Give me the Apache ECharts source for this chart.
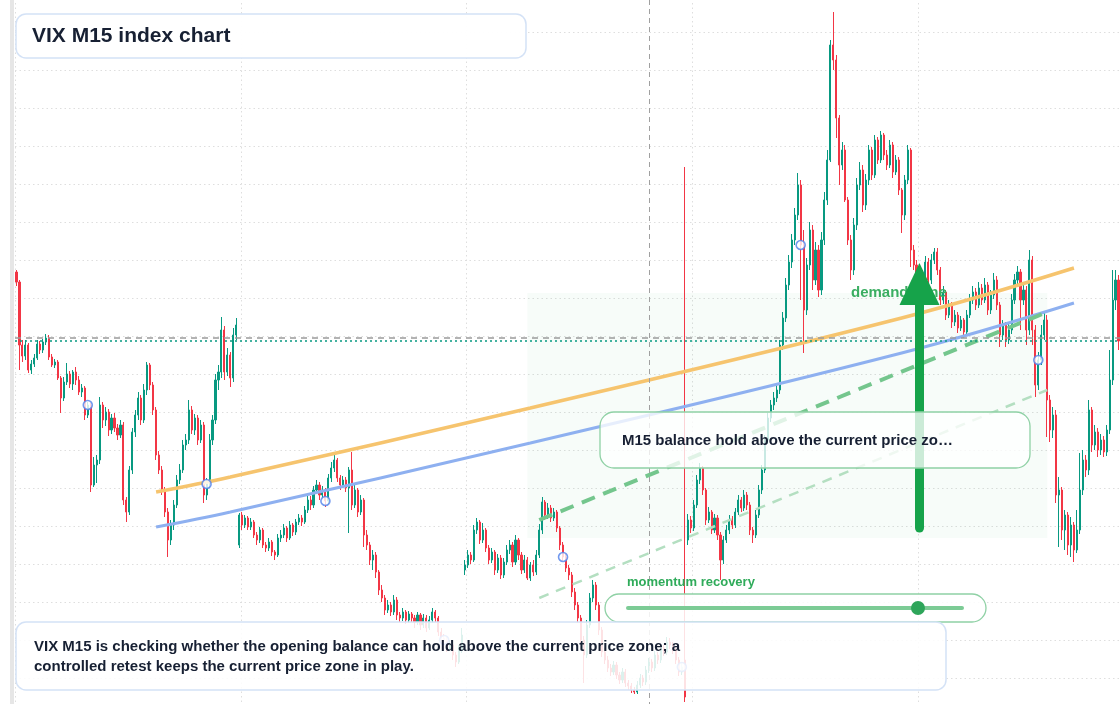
<!DOCTYPE html>
<html><head><meta charset="utf-8">
<script src="https://cdn.jsdelivr.net/npm/echarts@6/dist/echarts.min.js"></script>
<style>html,body{margin:0;padding:0;background:#fff}#c{width:1120px;height:704px}</style>
</head><body><div id="c"></div>
<script>
// ---- VIX M15 candles (price) ----
const opens = [
17.28,17.18,16.55,16.44,16.55,16.30,16.36,16.42,16.56,16.50,
16.58,16.62,16.43,16.35,16.38,16.22,16.02,16.18,16.26,16.16,
16.28,16.20,16.08,16.12,15.85,15.95,15.15,15.35,15.40,15.95,
15.80,15.88,15.70,15.82,15.72,15.65,15.75,15.00,14.88,15.30,
15.68,15.85,16.02,15.80,16.10,16.35,16.15,15.90,15.45,15.30,
15.10,14.88,14.60,14.75,14.95,15.20,15.30,15.55,15.60,15.90,
15.70,15.82,15.60,15.75,15.05,15.16,15.60,15.80,16.20,16.28,
16.70,16.28,16.45,16.22,16.65,14.55,14.85,14.75,14.82,14.73,
14.78,14.65,14.60,14.70,14.55,14.52,14.58,14.48,14.45,14.62,
14.65,14.72,14.62,14.75,14.68,14.78,14.82,14.78,14.90,15.00,
14.95,15.10,15.15,15.05,15.10,14.99,15.22,15.32,15.40,15.22,
15.15,15.20,15.12,15.30,14.95,15.10,14.88,15.00,14.65,14.55,
14.40,14.45,14.28,14.10,14.02,13.90,13.95,13.88,14.00,13.85,
13.82,13.88,13.80,13.86,13.82,13.78,13.85,13.75,13.82,13.72,
13.80,13.88,13.82,13.68,13.62,13.60,13.52,13.55,13.45,13.38,
13.50,14.30,14.35,14.45,14.40,14.70,14.78,14.60,14.70,14.52,
14.40,14.48,14.30,14.42,14.25,14.38,14.50,14.55,14.38,14.60,
14.45,14.30,14.40,14.22,14.35,14.28,14.45,14.70,14.98,14.85,
14.92,14.82,14.88,14.72,14.55,14.43,14.32,14.25,14.08,13.95,
13.82,13.60,13.45,13.75,14.02,14.15,13.95,13.70,13.48,13.40,
13.32,13.28,13.35,13.25,13.20,13.28,13.17,13.14,13.10,13.08,
13.15,13.22,13.18,13.30,13.38,13.32,13.45,13.40,13.52,13.48,
13.58,13.55,13.50,13.40,13.28,13.40,14.60,14.80,14.72,14.95,
15.20,15.32,15.10,14.80,14.88,14.70,14.82,14.65,14.40,14.60,
14.70,14.80,14.75,14.88,15.00,14.92,15.05,14.95,14.70,14.65,
14.85,15.10,15.30,15.60,15.82,15.95,16.02,16.10,16.55,16.82,
17.15,17.38,17.60,17.85,18.15,17.55,16.90,17.35,17.70,17.20,
17.50,17.10,17.60,18.00,18.40,19.55,19.40,18.82,18.35,18.50,
18.00,17.60,17.30,17.75,18.15,18.30,17.95,18.20,18.50,18.25,
18.60,18.40,18.65,18.45,18.35,18.55,18.28,18.40,18.10,17.85,
18.20,18.50,17.50,17.35,17.15,17.10,17.25,17.38,17.20,17.40,
17.48,17.30,17.00,17.08,16.85,16.95,16.78,16.85,16.72,16.80,
16.68,16.85,17.00,17.08,16.95,17.12,17.00,17.15,16.90,17.05,
17.20,16.95,16.65,16.75,16.60,16.70,17.00,17.20,17.28,17.00,
17.10,16.70,17.40,16.70,16.15,16.40,16.65,16.80,16.00,15.70,
15.85,15.05,15.10,14.70,14.85,14.55,14.75,14.50,14.70,15.10,
15.40,15.30,15.90,15.55,15.68,15.50,15.60,15.48,15.70,16.20,
17.00,17.20];
const closes = [
17.18,16.55,16.44,16.55,16.30,16.36,16.42,16.56,16.50,16.58,
16.62,16.43,16.35,16.38,16.22,16.02,16.18,16.26,16.16,16.28,
16.20,16.08,16.12,15.85,15.95,15.15,15.35,15.40,15.95,15.80,
15.88,15.70,15.82,15.72,15.65,15.75,15.00,14.88,15.30,15.68,
15.85,16.02,15.80,16.10,16.35,16.15,15.90,15.45,15.30,15.10,
14.88,14.60,14.75,14.95,15.20,15.30,15.55,15.60,15.90,15.70,
15.82,15.60,15.75,15.05,15.16,15.60,15.80,16.20,16.28,16.70,
16.28,16.45,16.22,16.65,16.75,14.85,14.75,14.82,14.73,14.78,
14.65,14.60,14.70,14.55,14.52,14.58,14.48,14.45,14.62,14.65,
14.72,14.62,14.75,14.68,14.78,14.82,14.78,14.90,15.00,14.95,
15.10,15.15,15.05,15.10,14.99,15.22,15.32,15.40,15.22,15.15,
15.20,15.12,15.30,14.95,15.10,14.88,15.00,14.65,14.55,14.40,
14.45,14.28,14.10,14.02,13.90,13.95,13.88,14.00,13.85,13.82,
13.88,13.80,13.86,13.82,13.78,13.85,13.75,13.82,13.72,13.80,
13.88,13.82,13.68,13.62,13.60,13.52,13.55,13.45,13.38,13.50,
13.65,14.35,14.45,14.40,14.70,14.78,14.60,14.70,14.52,14.40,
14.48,14.30,14.42,14.25,14.38,14.50,14.55,14.38,14.60,14.45,
14.30,14.40,14.22,14.35,14.28,14.45,14.70,14.98,14.85,14.92,
14.82,14.88,14.72,14.55,14.43,14.32,14.25,14.08,13.95,13.82,
13.60,13.45,13.75,14.02,14.15,13.95,13.70,13.48,13.40,13.32,
13.28,13.35,13.25,13.20,13.28,13.17,13.14,13.10,13.08,13.15,
13.22,13.18,13.30,13.38,13.32,13.45,13.40,13.52,13.48,13.58,
13.55,13.50,13.40,13.28,13.33,13.03,14.80,14.72,14.95,15.20,
15.32,15.10,14.80,14.88,14.70,14.82,14.65,14.40,14.60,14.70,
14.80,14.75,14.88,15.00,14.92,15.05,14.95,14.70,14.65,14.85,
15.10,15.30,15.60,15.82,15.95,16.02,16.10,16.55,16.82,17.15,
17.38,17.60,17.85,18.15,17.55,16.90,17.35,17.70,17.20,17.50,
17.10,17.60,18.00,18.40,19.55,19.40,18.82,18.35,18.50,18.00,
17.60,17.30,17.75,18.15,18.30,17.95,18.20,18.50,18.25,18.60,
18.40,18.65,18.45,18.35,18.55,18.28,18.40,18.10,17.85,18.20,
18.50,17.50,17.35,17.15,17.10,17.25,17.38,17.20,17.40,17.48,
17.30,17.00,17.08,16.85,16.95,16.78,16.85,16.72,16.80,16.68,
16.85,17.00,17.08,16.95,17.12,17.00,17.15,16.90,17.05,17.20,
16.95,16.65,16.75,16.60,16.70,17.00,17.20,17.28,17.00,17.10,
16.70,17.40,16.70,16.15,16.40,16.65,16.80,16.00,15.70,15.85,
15.05,15.10,14.70,14.85,14.55,14.75,14.50,14.70,15.10,15.40,
15.30,15.90,15.55,15.68,15.50,15.60,15.48,15.70,16.20,17.00,
17.20,16.59];
const lows = [
17.14,16.30,16.38,16.40,16.27,16.26,16.33,16.40,16.46,16.47,
16.55,16.40,16.33,16.32,16.20,15.87,15.99,16.15,16.12,16.10,
16.15,16.05,16.03,15.80,15.82,15.08,15.13,15.17,15.36,15.72,
15.74,15.64,15.66,15.68,15.60,15.62,14.95,14.78,14.85,15.26,
15.63,15.80,15.75,15.77,16.05,16.10,15.85,15.40,15.26,15.05,
14.83,14.43,14.55,14.70,14.92,15.16,15.27,15.50,15.56,15.66,
15.65,15.55,15.57,14.97,15.00,15.12,15.55,15.76,16.10,16.22,
16.20,16.24,16.13,16.18,16.60,14.52,14.70,14.72,14.70,14.70,
14.62,14.55,14.57,14.52,14.48,14.49,14.44,14.40,14.43,14.58,
14.62,14.58,14.60,14.64,14.65,14.75,14.74,14.76,14.87,14.90,
14.92,15.06,15.00,15.02,14.93,14.96,15.18,15.28,15.18,15.10,
15.12,15.08,14.67,14.90,14.92,14.83,14.85,14.53,14.50,14.35,
14.30,14.22,14.05,13.98,13.85,13.87,13.84,13.85,13.80,13.78,
13.79,13.76,13.77,13.78,13.72,13.75,13.70,13.72,13.68,13.70,
13.77,13.78,13.64,13.58,13.55,13.48,13.49,13.40,13.33,13.36,
13.47,14.25,14.32,14.36,14.38,14.66,14.56,14.57,14.48,14.36,
14.37,14.25,14.27,14.21,14.22,14.35,14.46,14.33,14.35,14.40,
14.26,14.27,14.20,14.19,14.24,14.25,14.42,14.66,14.80,14.81,
14.78,14.79,14.68,14.50,14.39,14.28,14.20,14.03,13.90,13.77,
13.55,13.17,13.42,13.72,13.98,13.90,13.65,13.43,13.36,13.28,
13.24,13.25,13.21,13.16,13.17,13.13,13.10,13.07,13.06,13.06,
13.12,13.14,13.15,13.27,13.28,13.29,13.36,13.37,13.44,13.45,
13.51,13.46,13.36,13.24,13.25,12.98,14.55,14.67,14.69,14.92,
15.16,15.05,14.75,14.77,14.66,14.67,14.60,14.20,14.36,14.57,
14.66,14.71,14.72,14.85,14.88,14.89,14.90,14.65,14.57,14.62,
14.82,15.06,15.27,15.56,15.78,15.90,15.98,16.06,16.50,16.78,
17.10,17.32,17.55,17.80,17.00,16.47,16.85,17.30,17.10,17.15,
17.03,17.05,17.55,17.95,18.38,19.30,18.62,18.15,18.30,17.98,
17.55,17.20,17.25,17.70,18.10,17.88,17.90,18.15,18.20,18.22,
18.36,18.37,18.40,18.30,18.32,18.22,18.25,18.05,17.67,17.80,
18.16,17.33,17.30,17.10,17.05,17.06,17.22,17.15,17.16,17.36,
17.25,16.95,16.96,16.80,16.82,16.72,16.74,16.67,16.69,16.62,
16.64,16.82,16.96,16.90,16.92,16.95,16.97,16.85,16.86,17.01,
16.90,16.53,16.60,16.53,16.56,16.66,16.96,17.14,16.70,16.95,
16.55,16.65,16.55,16.03,16.10,16.35,16.60,15.63,15.58,15.62,
14.97,14.53,14.60,14.50,14.45,14.43,14.38,14.47,14.66,15.05,
15.23,15.25,15.48,15.50,15.43,15.45,15.43,15.44,15.66,16.15,
16.90,16.50];
const highs = [
17.30,17.20,16.60,16.60,16.57,16.40,16.46,16.60,16.59,16.61,
16.66,16.65,16.46,16.41,16.40,16.24,16.23,16.37,16.29,16.30,
16.33,16.24,16.16,16.14,15.98,15.97,15.43,15.45,16.03,15.98,
15.93,15.91,15.86,15.87,15.76,15.80,15.78,15.03,15.34,15.72,
15.90,16.08,16.05,16.16,16.38,16.37,16.18,15.93,15.49,15.34,
15.13,14.92,14.80,15.00,15.25,15.36,15.60,15.66,16.00,15.94,
15.86,15.85,15.80,15.78,15.22,15.66,15.85,16.26,16.35,16.83,
16.74,16.52,16.48,16.72,16.82,14.87,14.88,14.85,14.84,14.82,
14.80,14.68,14.73,14.72,14.58,14.62,14.60,14.50,14.66,14.70,
14.76,14.74,14.79,14.77,14.81,14.86,14.85,14.94,15.05,15.04,
15.14,15.20,15.18,15.14,15.12,15.26,15.38,15.45,15.42,15.25,
15.24,15.23,15.33,15.48,15.15,15.12,15.05,15.02,14.70,14.58,
14.50,14.48,14.30,14.15,14.05,14.00,13.98,14.05,14.03,13.88,
13.92,13.90,13.89,13.88,13.85,13.88,13.87,13.86,13.85,13.84,
13.92,13.90,13.84,13.72,13.66,13.63,13.60,13.58,13.48,13.55,
13.72,14.40,14.50,14.48,14.75,14.82,14.80,14.77,14.72,14.55,
14.52,14.50,14.46,14.45,14.42,14.55,14.60,14.58,14.65,14.62,
14.48,14.45,14.43,14.38,14.40,14.50,14.76,15.03,15.00,14.97,
14.95,14.92,14.90,14.74,14.58,14.46,14.35,14.28,14.12,13.98,
13.85,13.64,13.80,14.07,14.20,14.18,13.98,13.73,13.52,13.44,
13.36,13.39,13.38,13.28,13.32,13.31,13.20,13.17,13.13,13.19,
13.26,13.25,13.34,13.42,13.41,13.49,13.48,13.56,13.55,13.63,
13.62,13.58,13.53,13.43,13.37,18.33,14.86,14.84,15.00,15.25,
15.37,15.34,15.12,14.93,14.90,14.86,14.85,14.68,14.64,14.75,
14.85,14.84,14.92,15.05,15.03,15.10,15.08,14.98,14.73,14.90,
15.15,15.35,15.65,15.87,16.00,16.08,16.15,16.60,16.88,17.22,
17.45,17.66,17.92,18.27,18.20,17.70,17.42,17.78,17.75,17.58,
17.55,17.68,18.08,18.50,19.60,19.88,19.45,18.85,18.58,18.55,
18.03,17.65,17.82,18.22,18.38,18.35,18.26,18.55,18.53,18.65,
18.63,18.69,18.67,18.50,18.60,18.58,18.45,18.43,18.12,18.25,
18.55,18.52,17.55,17.40,17.20,17.30,17.44,17.42,17.46,17.52,
17.52,17.33,17.14,17.10,17.00,16.98,16.90,16.88,16.84,16.82,
16.90,17.06,17.14,17.12,17.18,17.16,17.22,17.18,17.10,17.27,
17.24,16.98,16.80,16.78,16.76,17.06,17.26,17.34,17.31,17.16,
17.14,17.50,17.44,16.75,16.48,16.75,16.87,16.85,16.05,15.93,
15.90,15.23,15.13,14.90,14.88,14.83,14.78,14.90,15.47,15.50,
15.45,16.00,15.93,15.75,15.72,15.66,15.64,15.75,16.50,17.30,
17.30,17.25];

// reference levels and overlays (price units / bar indices)
const lastPrice = 16.59;
const refPrice = 16.62;
const sessionMarkBar = 213;
const markerBars = [24, 64, 104, 144, 184, 224, 264, 304, 344];
const trendBars = [47, 72, 173, 298, 356];
const upperTrend = [15.08, 15.23, 15.92, 16.82, 17.32];
const lowerTrend = [14.73, 14.88, 15.57, 16.47, 16.97];
const channelBars = [176, 347];
const channelMid = [14.80, 16.88];
const channelLow = [14.02, 16.10];
const zoneBars = [172, 347];
const zonePrices = [14.62, 17.07];
const arrowBar = 304;
const arrowPrices = [14.72, 17.16];

const categories = closes.map((_, i) => 'M15-' + (i + 1));
const candleData = closes.map((c, i) => [opens[i], c, lows[i], highs[i]]);
const pairs = (xs, ys) => xs.map((x, i) => [x, ys[i]]);

const FONT = '"Liberation Sans", Arial, Helvetica, sans-serif';
const chart = echarts.init(document.getElementById('c'), null, {renderer: 'canvas'});
chart.setOption({
  animation: false,
  backgroundColor: '#ffffff',
  grid: {left: 15, right: 0, top: -6, bottom: -12, containLabel: false, outerBoundsMode: 'none'},
  xAxis: {
    type: 'category', data: categories, boundaryGap: true,
    axisLine: {show: false}, axisTick: {show: false}, axisLabel: {show: false},
    splitLine: {show: true, interval: 75, lineStyle: {color: '#dedede', type: [1.5, 3], width: 1}}
  },
  yAxis: {
    type: 'value', min: 12.84, max: 20.06, interval: 0.38, scale: true,
    axisLine: {show: false}, axisTick: {show: false}, axisLabel: {show: false},
    splitLine: {show: true, lineStyle: {color: '#dedede', type: [1.5, 3], width: 1}}
  },
  series: [
    {
      type: 'line', data: [], z: 1, silent: true,
      markArea: {
        silent: true,
        itemStyle: {color: 'rgba(22,163,74,0.035)'},
        data: [[{xAxis: zoneBars[0], yAxis: zonePrices[1]}, {xAxis: zoneBars[1], yAxis: zonePrices[0]}]]
      }
    },
    {
      type: 'candlestick', data: candleData, z: 2, barWidth: 1.6,
      itemStyle: {color: '#089981', color0: '#f23645', borderColor: '#089981', borderColor0: '#f23645', borderWidth: 1},
      markLine: {
        silent: true, symbol: ['none', 'none'], label: {show: false},
        data: [
          {yAxis: refPrice, lineStyle: {color: '#9a9a9a', type: [6, 5], width: 1.5}},
          {yAxis: lastPrice, lineStyle: {color: '#089981', type: [2, 3], width: 1.5}},
          {xAxis: sessionMarkBar, lineStyle: {color: '#a0a0a0', type: [5, 4], width: 1}}
        ]
      }
    },
    {type: 'line', data: pairs(trendBars, upperTrend), smooth: 0.4, symbol: 'none', z: 3,
      lineStyle: {color: '#f6c46e', width: 3.5}},
    {type: 'line', data: pairs(trendBars, lowerTrend), smooth: 0.4, symbol: 'none', z: 3,
      lineStyle: {color: '#8eb0f0', width: 3}},
    {type: 'line', data: pairs(channelBars, channelMid), symbol: 'none', z: 3,
      lineStyle: {color: '#74c68d', width: 4, type: [14, 9]}},
    {type: 'line', data: pairs(channelBars, channelLow), symbol: 'none', z: 3,
      lineStyle: {color: '#b4dfc1', width: 2.5, type: [10, 8]}},
    {type: 'scatter', data: markerBars.map(i => [i, closes[i]]), symbol: 'circle', symbolSize: 9, z: 4,
      itemStyle: {color: '#ffffff', borderColor: '#4f80ea', borderWidth: 1.6}},
    {
      type: 'line', data: [[arrowBar, arrowPrices[0]]], symbol: 'none', z: 6, lineStyle: {opacity: 0},
      markLine: {
        silent: true, symbol: ['none', 'triangle'], symbolSize: [40, 42], label: {show: false},
        lineStyle: {color: '#16a34a', width: 9, type: 'solid', cap: 'round', opacity: 1},
        itemStyle: {color: '#16a34a'},
        data: [[{coord: [arrowBar, arrowPrices[0]]}, {coord: [arrowBar, arrowPrices[1]]}]]
      }
    }
  ],
  graphic: {elements: [
    {type: 'rect', shape: {x: 10, y: 0, width: 4, height: 704}, style: {fill: '#e6e6e6'}, z: 0, silent: true},
    {type: 'text', x: 851, y: 293, z: 5, silent: true,
      style: {text: 'demand zone', font: 'bold 15px ' + FONT, fill: '#3bae62', textVerticalAlign: 'middle', verticalAlign: 'middle'}},
    {type: 'rect', shape: {x: 16, y: 14, width: 510, height: 44, r: 10}, z: 100, silent: true,
      style: {fill: 'rgba(255,255,255,0.95)', stroke: '#d4e2f6', lineWidth: 1.5}},
    {type: 'text', x: 32, y: 36, z: 101, silent: true,
      style: {text: 'VIX M15 index chart', font: 'bold 21px ' + FONT, fill: '#172033', textVerticalAlign: 'middle', verticalAlign: 'middle'}},
    {type: 'rect', shape: {x: 600, y: 412, width: 430, height: 56, r: 14}, z: 100, silent: true,
      style: {fill: 'rgba(255,255,255,0.78)', stroke: '#8fd1a5', lineWidth: 1.3}},
    {type: 'text', x: 622, y: 441, z: 101, silent: true,
      style: {text: 'M15 balance hold above the current price zo\u2026', font: 'bold 15px ' + FONT, fill: '#172033', textVerticalAlign: 'middle', verticalAlign: 'middle'}},
    {type: 'text', x: 627, y: 582, z: 101, silent: true,
      style: {text: 'momentum recovery', font: 'bold 13px ' + FONT, fill: '#2fab5a', textVerticalAlign: 'middle', verticalAlign: 'middle'}},
    {type: 'rect', shape: {x: 605, y: 594, width: 381, height: 28, r: 14}, z: 100, silent: true,
      style: {fill: 'rgba(255,255,255,0.85)', stroke: '#8fd1a5', lineWidth: 1.3}},
    {type: 'line', shape: {x1: 628, y1: 608, x2: 962, y2: 608}, z: 101, silent: true,
      style: {stroke: '#7ccb95', lineWidth: 4, lineCap: 'round'}},
    {type: 'circle', shape: {cx: 918, cy: 608, r: 7}, z: 102, silent: true,
      style: {fill: '#2ea55a'}},
    {type: 'rect', shape: {x: 16, y: 622, width: 930, height: 68, r: 10}, z: 100, silent: true,
      style: {fill: 'rgba(255,255,255,0.86)', stroke: '#d4e2f6', lineWidth: 1.5}},
    {type: 'text', x: 34, y: 647, z: 101, silent: true,
      style: {text: 'VIX M15 is checking whether the opening balance can hold above the current price zone; a', font: 'bold 15px ' + FONT, fill: '#172033', textVerticalAlign: 'middle', verticalAlign: 'middle'}},
    {type: 'text', x: 34, y: 667, z: 101, silent: true,
      style: {text: 'controlled retest keeps the current price zone in play.', font: 'bold 15px ' + FONT, fill: '#172033', textVerticalAlign: 'middle', verticalAlign: 'middle'}}
  ]}
});
</script>
</body></html>
